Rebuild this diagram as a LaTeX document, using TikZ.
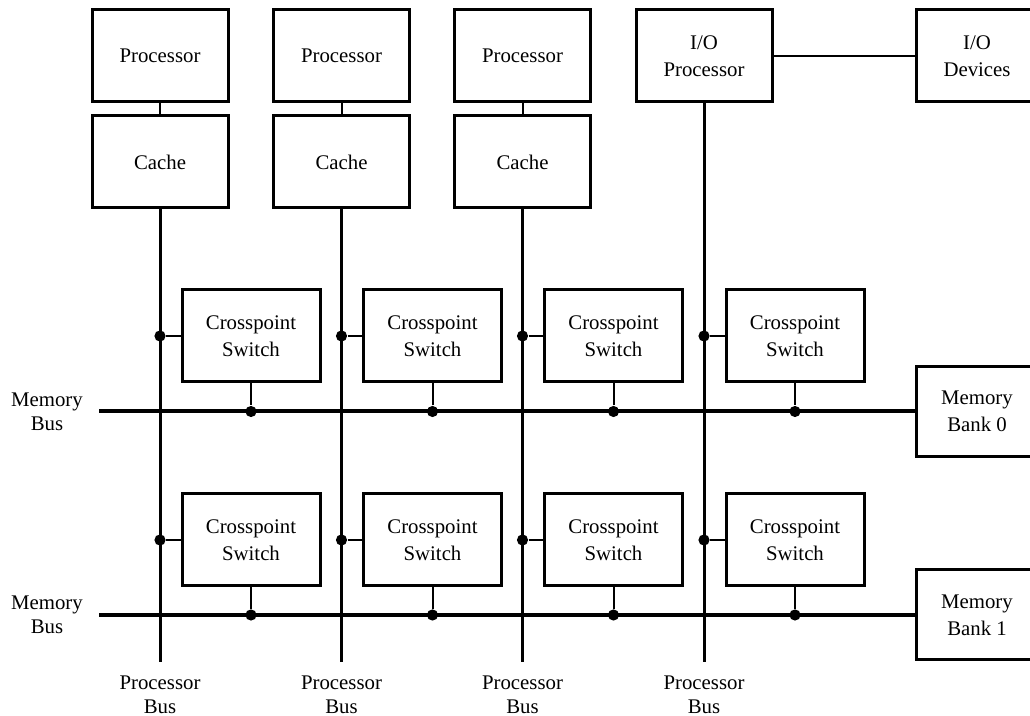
\documentclass[tikz,border=0pt]{standalone}
\usepackage{fontspec}
\setmainfont{Liberation Serif}
\begin{document}
\begin{tikzpicture}[x=0.5pt,y=-0.5pt,
  box/.style={draw, line width=1.5pt, align=center, inner sep=0pt,
    minimum width=68pt, minimum height=46pt, font=\fontsize{10.4}{13.5}\selectfont},
  xbox/.style={box, minimum width=69pt},
  bankbox/.style={box, minimum width=61pt, minimum height=45pt},
  membus/.style={line width=2pt},
  procbus/.style={line width=1.5pt},
  stub/.style={line width=1pt},
  dot/.style={circle, fill, inner sep=0pt, minimum size=5.6pt},
  lbl/.style={align=center, inner sep=0pt, font=\fontsize{10.4}{12}\selectfont}]
\useasboundingbox (0,0) rectangle (1030,716);

% processors with their caches
\foreach \i/\x in {1/160,2/341.5,3/522.5} {
  \node[box] (p\i) at (\x,56) {Processor};
  \node[box] (c\i) at (\x,162) {Cache};
  \draw[stub] (p\i) -- (c\i);
}
\node[box] (p4) at (704,56) {I/O\\Processor};
\node[bankbox, minimum height=46pt] (io) at (977,56) {I/O\\Devices};
\draw[stub] (p4) -- (io);

% memory banks
\node[bankbox] (m0) at (977,411.5) {Memory\\Bank 0};
\node[bankbox] (m1) at (977,615) {Memory\\Bank 1};

% memory buses
\coordinate (ma) at (99,411.5);
\coordinate (mb) at (99,615);
\node[lbl] (mla) at (47,411.5) {Memory\\Bus};
\node[lbl] (mlb) at (47,615) {Memory\\Bus};
\draw[membus] (ma) -- (m0.west);
\draw[membus] (mb) -- (m1.west);

% processor buses and crosspoint switches
\foreach \i/\x in {1/160,2/341.5,3/522.5,4/704} {
  \coordinate (e\i) at (\x,662);
  \node[lbl] (pl\i) at (\x,695) {Processor\\Bus};
  \node[xbox] (xa\i) at (\x+91,336) {Crosspoint\\Switch};
  \node[xbox] (xb\i) at (\x+91,540) {Crosspoint\\Switch};
  \node[dot] (ja\i) at (e\i |- xa\i.west) {};
  \node[dot] (jb\i) at (e\i |- xb\i.west) {};
  \draw[stub] (ja\i) -- (xa\i.west);
  \draw[stub] (jb\i) -- (xb\i.west);
  \node[dot] (ka\i) at (xa\i.south |- ma) {};
  \node[dot] (kb\i) at (xb\i.south |- mb) {};
  \draw[stub] (xa\i.south) -- (ka\i);
  \draw[stub] (xb\i.south) -- (kb\i);
}
\foreach \i in {1,2,3} {
  \draw[procbus] (c\i.south) -- (e\i);
}
\draw[procbus] (p4.south) -- (e4);
\end{tikzpicture}
\end{document}
